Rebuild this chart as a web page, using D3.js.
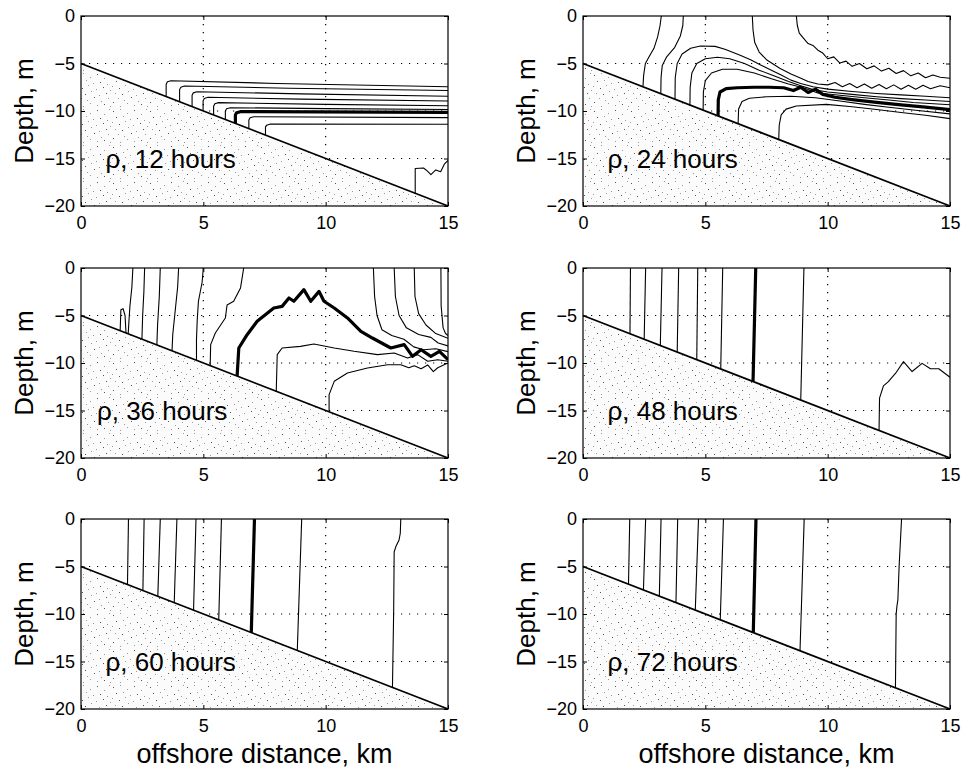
<!DOCTYPE html>
<html>
<head>
<meta charset="utf-8">
<script src="https://cdn.jsdelivr.net/npm/d3@7"></script>
<style>
body { margin: 0; background: #fff; }
svg text { font-family: "Liberation Sans", Arial, Helvetica, sans-serif; fill: #000; }
</style>
</head>
<body>
<div id="chart"></div>
<script>
// axes
const xTicks = [0, 5, 10, 15];
const yTicks = [0, -5, -10, -15, -20];
const gridX = [5, 10];
const gridY = [-5, -10, -15];
// sloping bottom, km / m
const shelfX = [0, 15];
const shelfDepth = [-5, -20];
const hours = [12, 24, 36, 48, 60, 72];

// density contours, [offshore km, depth m]
const rho12 = [
  [[3.48,-8.48],[3.48,-7.2],[3.53,-6.93],[3.68,-6.81],[8,-7.1],[15,-7.44]],
  [[4.03,-9.03],[4.03,-7.75],[4.08,-7.49],[4.23,-7.37],[8.5,-7.6],[15,-7.85]],
  [[4.54,-9.54],[4.54,-8.35],[4.59,-8.09],[4.74,-7.97],[9,-8.2],[15,-8.45]],
  [[4.99,-9.99],[4.99,-8.92],[5.04,-8.68],[5.19,-8.56],[9,-8.75],[15,-8.95]],
  [[5.42,-10.42],[5.42,-9.5],[5.47,-9.24],[5.62,-9.12],[10,-9.3],[15,-9.45]],
  [[5.9,-10.9],[5.9,-10.0],[5.95,-9.77],[6.1,-9.65],[10,-9.75],[15,-9.85]],
  [[6.86,-11.86],[6.86,-10.95],[6.91,-10.72],[7.06,-10.6],[15,-10.7]],
  [[7.54,-12.54],[7.54,-11.7],[7.59,-11.49],[7.74,-11.37],[15,-11.4]],
  [[13.66,-18.66],[13.66,-16.05],[14.0,-16.0],[14.15,-16.3],[14.3,-16.7],[14.5,-16.2],[14.7,-16.4],[14.85,-15.6],[15,-15.2]]
];
const rho12Bold = [[6.31,-11.31],[6.31,-10.42],[6.36,-10.19],[6.51,-10.07],[15,-10.15]];

const rho24 = [
  [[2.45,-7.45],[2.48,-6.2],[2.55,-5.0],[2.7,-4.3],[2.9,-3.4],[3.05,-2.2],[3.15,-1.0],[3.2,0]],
  [[3.18,-8.18],[3.19,-6.5],[3.24,-5.2],[3.42,-4.3],[3.75,-3.3],[3.98,-2.1],[4.08,-1.0],[4.1,0]],
  [[3.76,-8.76],[3.77,-6.5],[3.85,-5.0],[4.05,-4.0],[4.4,-3.4],[4.8,-3.15],[5.4,-3.2],[5.8,-3.5],[6.4,-4.1],[6.85,-4.6],[7.3,-5.2],[7.7,-5.7],[8.1,-6.2],[8.5,-6.75],[8.9,-7.1],[9.4,-7.45],[10,-7.7],[11,-7.95],[12,-8.15],[13,-8.3],[14,-8.45],[15,-8.6]],
  [[4.37,-9.37],[4.38,-7.5],[4.45,-6.0],[4.65,-5.0],[5.0,-4.5],[5.5,-4.35],[6.0,-4.5],[6.6,-5.0],[7.2,-5.7],[7.8,-6.3],[8.4,-6.9],[8.9,-7.35],[9.4,-7.75],[10,-8.0],[11,-8.25],[12,-8.5],[13,-8.7],[14,-8.85],[15,-9.0]],
  [[4.91,-9.91],[4.92,-8.0],[5.0,-6.8],[5.25,-6.0],[5.7,-5.6],[6.3,-5.6],[7.0,-6.0],[7.7,-6.6],[8.4,-7.15],[9.0,-7.55],[9.6,-8.1],[10.5,-8.35],[11.5,-8.6],[12.5,-8.85],[13.5,-9.1],[15,-9.35]],
  [[6.34,-11.34],[6.36,-9.8],[6.5,-9.0],[6.8,-8.65],[7.5,-8.5],[8.5,-8.45],[9.5,-8.6],[10.5,-8.95],[11.5,-9.3],[12.5,-9.6],[13.5,-9.9],[15,-10.3]],
  [[8.0,-13.0],[8.02,-11.5],[8.1,-10.4],[8.3,-9.8],[8.72,-9.47],[9.95,-9.3],[11,-9.55],[12,-9.85],[13,-10.15],[14,-10.45],[15,-10.8]],
  [[6.92,0],[6.95,-1.5],[7.02,-2.8],[7.2,-3.8],[7.5,-4.6],[8.04,-5.5],[8.5,-6.1],[8.86,-6.5],[9.2,-6.9],[9.6,-7.15],[10.0,-7.25],[10.3,-7.0],[10.6,-7.45],[10.9,-7.1],[11.2,-7.55],[11.5,-7.15],[11.8,-7.6],[12.1,-7.2],[12.4,-7.65],[12.7,-7.25],[13.0,-7.7],[13.3,-7.3],[13.6,-7.7],[13.9,-7.3],[14.2,-7.65],[14.6,-7.35],[15,-7.55]],
  [[8.72,0],[8.76,-1.0],[8.84,-1.8],[9.0,-2.3],[9.2,-2.9],[9.4,-3.1],[9.6,-3.6],[9.8,-3.9],[10.0,-4.5],[10.25,-4.3],[10.5,-4.95],[10.75,-4.75],[11.0,-5.3],[11.3,-5.0],[11.6,-5.55],[11.9,-5.25],[12.2,-5.8],[12.5,-5.5],[12.8,-6.05],[13.1,-5.75],[13.4,-6.3],[13.7,-6.0],[14.0,-6.5],[14.3,-6.2],[14.6,-6.45],[15,-6.55]]
];
const rho24Bold = [[5.52,-10.52],[5.53,-8.8],[5.6,-8.0],[5.85,-7.65],[6.3,-7.55],[7.0,-7.5],[7.6,-7.5],[8.2,-7.55],[8.6,-7.85],[8.9,-7.5],[9.2,-8.05],[9.5,-7.7],[9.8,-8.25],[10.3,-8.55],[11,-8.8],[12,-9.1],[13,-9.35],[14,-9.6],[15,-9.85]];

const rho36 = [
  [[1.6,-6.6],[1.63,-4.4],[1.72,-4.28],[1.8,-5.0],[1.84,-6.84]],
  [[2.12,0],[2.08,-2],[2.0,-4],[1.95,-6],[1.93,-6.93]],
  [[2.6,0],[2.57,-2.5],[2.52,-5],[2.49,-7.49]],
  [[3.24,0],[3.2,-3],[3.13,-6],[3.1,-8.1]],
  [[3.99,0],[3.95,-2],[3.85,-4.5],[3.75,-7],[3.72,-8.72]],
  [[5.0,0],[4.95,-1.5],[4.8,-3.5],[4.75,-5.5],[4.72,-7.5],[4.72,-9.72]],
  [[6.65,0],[6.52,-2.1],[6.24,-3.5],[5.97,-3.9],[5.9,-5.26],[5.49,-6.84],[5.3,-8.07],[5.28,-10.28]],
  [[7.98,-12.98],[8.02,-9.12],[8.22,-8.42],[8.97,-8.25],[9.52,-8.0],[10.35,-8.42],[11.16,-8.77],[12.12,-9.12],[12.8,-8.95],[13.35,-9.47],[13.76,-9.12],[14.17,-9.82],[14.58,-9.65],[15,-9.82]],
  [[10.14,-15.14],[10.14,-13.33],[10.35,-11.93],[10.89,-11.05],[11.71,-10.53],[12.53,-10.18],[13.07,-10.18],[13.4,-10.5],[13.62,-10.3],[13.9,-10.6],[14.17,-10.2],[14.4,-10.9],[14.58,-10.5],[15,-10.0]],
  [[11.95,0],[12.0,-3],[12.1,-5],[12.3,-6.5],[12.7,-7.1],[13.2,-7.5],[13.6,-8.3],[14.0,-8.6],[14.5,-8.5],[15,-8.8]],
  [[12.8,0],[12.85,-3],[13.0,-5],[13.3,-6.3],[13.8,-7.0],[14.3,-7.3],[14.6,-7.9],[15,-8.2]],
  [[13.62,0],[13.65,-3],[13.8,-4.8],[14.1,-6],[14.5,-6.9],[15,-7.4]],
  [[14.71,0],[14.72,-4],[14.8,-6.3],[14.9,-6.9],[15,-7.1]]
];
const rho36Bold = [[6.38,-11.38],[6.45,-8.42],[6.79,-7.02],[7.2,-5.61],[7.88,-4.21],[8.22,-4.04],[8.5,-3.16],[8.7,-3.5],[9.11,-2.28],[9.39,-3.5],[9.73,-2.46],[9.93,-3.5],[10.35,-4.21],[10.89,-5.26],[11.44,-6.67],[11.91,-7.37],[12.66,-8.42],[13.21,-8.07],[13.55,-9.3],[13.9,-8.6],[14.3,-9.3],[14.65,-8.77],[15,-9.65]];

const rho48 = [
  [[1.94,0],[1.92,-6.92]],
  [[2.56,0],[2.5,-7.5]],
  [[3.23,0],[3.16,-8.16]],
  [[3.91,0],[3.85,-8.85]],
  [[4.69,0],[4.65,-9.65]],
  [[5.71,0],[5.63,-10.63]],
  [[9.03,0],[8.9,-13.9]],
  [[12.1,-17.1],[12.12,-13.7],[12.28,-12.4],[12.48,-11.96],[12.77,-11.1],[13.1,-9.86],[13.45,-10.9],[13.86,-10.04],[14.2,-10.6],[14.54,-10.6],[15,-11.5]]
];
const rho48Bold = [[7.06,0],[6.95,-11.95]];

const rho60 = [
  [[1.94,0],[1.9,-6.9]],
  [[2.58,0],[2.53,-7.53]],
  [[3.24,0],[3.14,-8.14]],
  [[3.92,0],[3.81,-8.81]],
  [[4.7,0],[4.6,-9.6]],
  [[5.74,0],[5.63,-10.63]],
  [[9.02,0],[8.84,-13.84]],
  [[13.07,0],[13.05,-1.5],[13.0,-2.2],[12.87,-2.9],[12.8,-3.45],[12.78,-9.6],[12.73,-17.73]]
];
const rho60Bold = [[7.09,0],[6.96,-11.96]];

const rho72 = [
  [[1.91,0],[1.86,-6.86]],
  [[2.56,0],[2.47,-7.47]],
  [[3.19,0],[3.12,-8.12]],
  [[3.87,0],[3.8,-8.8]],
  [[4.72,0],[4.59,-9.59]],
  [[5.74,0],[5.61,-10.61]],
  [[9.04,0],[8.87,-13.87]],
  [[13.02,0],[12.98,-2],[12.92,-5],[12.87,-8.5],[12.83,-9.2],[12.8,-10],[12.77,-17.77]]
];
const rho72Bold = [[7.07,0],[6.96,-11.96]];

const thinSets = [rho12, rho24, rho36, rho48, rho60, rho72];
const boldSets = [rho12Bold, rho24Bold, rho36Bold, rho48Bold, rho60Bold, rho72Bold];

// layout
const width = 966, height = 770;
const W = 367, H = 190;
const colLeft = [81, 583];
const rowTop = [16, 268, 519];
const labelKm = [1.0, 1.0, 0.65, 1.0, 1.0, 1.0];

const svg = d3.select("#chart").append("svg")
  .attr("width", width).attr("height", height);

// stipple for the sea bed (fixed texture tile)
const stipDots = [[2,3],[9,1],[16,5],[23,2],[30,6],[35,1],[5,9],[12,8],[19,11],[26,10],[33,12],
  [1,14],[8,16],[14,13],[22,17],[29,15],[36,18],[4,21],[11,22],[17,19],[25,23],[32,21],
  [7,26],[13,28],[20,25],[27,29],[34,26],[2,30],[16,31],[23,33],[30,32],[9,34],[36,34]];
const pat = svg.append("defs").append("pattern")
  .attr("id", "stip").attr("patternUnits", "userSpaceOnUse")
  .attr("width", 37).attr("height", 36);
pat.append("rect").attr("width", 37).attr("height", 36).attr("fill", "#fbfbfb");
pat.selectAll("rect.d").data(stipDots).enter().append("rect")
  .attr("class", "d")
  .attr("x", d => d[0]).attr("y", d => d[1])
  .attr("width", 1).attr("height", 1)
  .attr("fill", (d, k) => k % 3 === 0 ? "#555" : "#999");

hours.forEach(function(h, i) {
  const col = i % 2, row = Math.floor(i / 2);
  const x0 = colLeft[col], y0 = rowTop[row];
  const x = d3.scaleLinear().domain([0, 15]).range([x0, x0 + W]);
  const y = d3.scaleLinear().domain([-20, 0]).range([y0 + H, y0]);
  const g = svg.append("g");
  const clipId = "clip" + i;

  g.append("clipPath").attr("id", clipId).append("rect")
    .attr("x", x0).attr("y", y0).attr("width", W).attr("height", H);

  // dotted grid
  g.append("g").selectAll("line").data(gridX).enter().append("line")
    .attr("x1", d => x(d)).attr("x2", d => x(d))
    .attr("y1", y(0)).attr("y2", y(-20))
    .attr("stroke", "#000").attr("stroke-width", 1.2)
    .attr("stroke-dasharray", "1.2,6.8");
  g.append("g").selectAll("line").data(gridY).enter().append("line")
    .attr("x1", x(0)).attr("x2", x(15))
    .attr("y1", d => y(d)).attr("y2", d => y(d))
    .attr("stroke", "#000").attr("stroke-width", 1.2)
    .attr("stroke-dasharray", "1.2,6.8");

  const line = d3.line().x(d => x(d[0])).y(d => y(d[1]));

  const cg = g.append("g").attr("clip-path", "url(#" + clipId + ")");
  cg.selectAll("path.thin").data(thinSets[i]).enter().append("path")
    .attr("class", "thin")
    .attr("d", line)
    .attr("fill", "none").attr("stroke", "#000").attr("stroke-width", 1.1)
    .attr("stroke-linejoin", "round");
  cg.append("path").datum(boldSets[i])
    .attr("d", line)
    .attr("fill", "none").attr("stroke", "#000").attr("stroke-width", 3.2)
    .attr("stroke-linejoin", "round");

  // sea bed
  const bed = [[shelfX[0], shelfDepth[0]], [shelfX[1], shelfDepth[1]], [shelfX[0], shelfDepth[1]]];
  g.append("path").datum(bed)
    .attr("d", d => line(d) + "Z")
    .attr("fill", "url(#stip)").attr("stroke", "none");
  g.append("line")
    .attr("x1", x(shelfX[0])).attr("y1", y(shelfDepth[0]))
    .attr("x2", x(shelfX[1])).attr("y2", y(shelfDepth[1]))
    .attr("stroke", "#000").attr("stroke-width", 1.7);

  // frame
  g.append("rect").attr("x", x0).attr("y", y0).attr("width", W).attr("height", H)
    .attr("fill", "none").attr("stroke", "#000").attr("stroke-width", 1.2);

  const fmt = d => d < 0 ? "\u2212" + Math.abs(d) : String(d);

  const ax = g.append("g").attr("transform", "translate(0," + (y0 + H) + ")")
    .call(d3.axisBottom(x).tickValues(xTicks).tickSize(-4).tickSizeOuter(0).tickPadding(10).tickFormat(fmt));
  const ay = g.append("g").attr("transform", "translate(" + x0 + ",0)")
    .call(d3.axisLeft(y).tickValues(yTicks).tickSize(-4).tickSizeOuter(0).tickPadding(6).tickFormat(fmt));
  const at = g.append("g").attr("transform", "translate(0," + y0 + ")")
    .call(d3.axisTop(x).tickValues(xTicks).tickSize(-4).tickSizeOuter(0).tickFormat(""));
  const ar = g.append("g").attr("transform", "translate(" + (x0 + W) + ",0)")
    .call(d3.axisRight(y).tickValues(yTicks).tickSize(-4).tickSizeOuter(0).tickFormat(""));
  [ax, ay, at, ar].forEach(a => {
    a.select(".domain").remove();
    a.selectAll("line").attr("stroke", "#000");
    a.selectAll("text").attr("font-size", 18)
      .attr("font-family", "'Liberation Sans', Arial, sans-serif").attr("fill", "#000");
  });

  g.append("text")
    .attr("transform", "translate(" + (x0 - 48) + "," + (y0 + H / 2) + ") rotate(-90)")
    .attr("text-anchor", "middle").attr("font-size", 26)
    .text("Depth, m");

  g.append("text")
    .attr("x", x(labelKm[i])).attr("y", y(-16))
    .attr("font-size", 26)
    .text("\u03C1, " + h + " hours");

  if (row === 2) {
    g.append("text")
      .attr("x", x0 + W / 2).attr("y", y0 + H + 54)
      .attr("text-anchor", "middle").attr("font-size", 27)
      .text("offshore distance, km");
  }
});
</script>
</body>
</html>
